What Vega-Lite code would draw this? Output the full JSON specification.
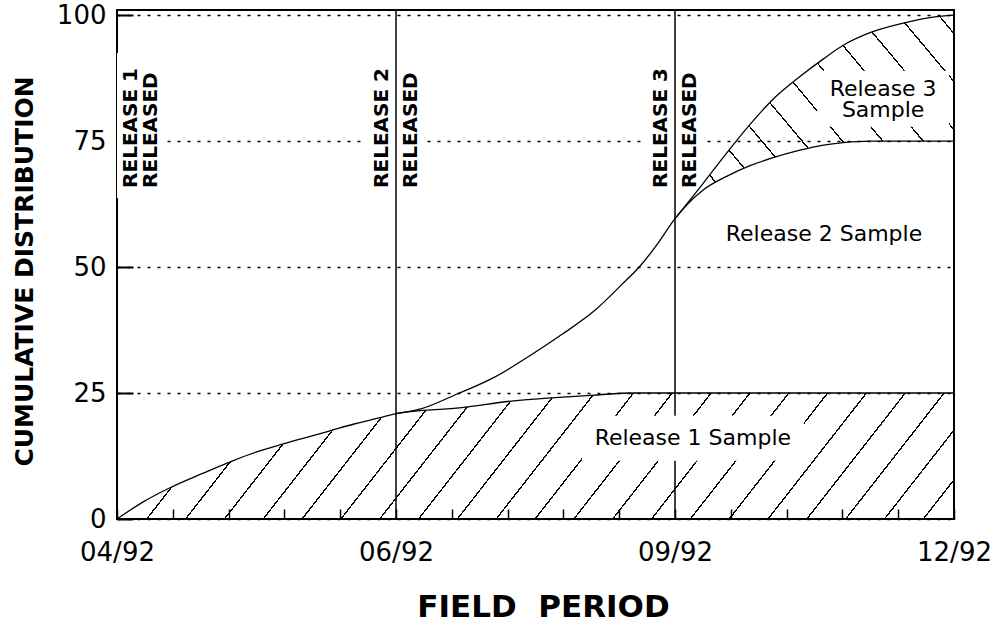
{
  "$schema": "https://vega.github.io/schema/vega-lite/v6.json",
  "width": 837,
  "height": 509,
  "autosize": {"type": "none"},
  "padding": {"left": 117, "top": 10, "right": 48, "bottom": 106},
  "background": "white",
  "config": {
    "font": "DejaVu Sans",
    "view": {"stroke": "black", "strokeWidth": 2},
    "axis": {"labelColor": "black", "titleColor": "black", "tickColor": "black", "domain": false}
  },
  "datasets": {
    "curves": [
      {"t": 0, "s": "R1", "v": 0},
      {"t": 0.094, "s": "R1", "v": 3.4},
      {"t": 0.19, "s": "R1", "v": 6.2},
      {"t": 0.309, "s": "R1", "v": 9.1},
      {"t": 0.417, "s": "R1", "v": 11.6},
      {"t": 0.5, "s": "R1", "v": 13.3},
      {"t": 0.596, "s": "R1", "v": 14.9},
      {"t": 0.68, "s": "R1", "v": 16.2},
      {"t": 0.757, "s": "R1", "v": 17.4},
      {"t": 0.853, "s": "R1", "v": 18.9},
      {"t": 0.943, "s": "R1", "v": 20.1},
      {"t": 1.0, "s": "R1", "v": 20.9},
      {"t": 1.235, "s": "R1", "v": 22.1},
      {"t": 1.414, "s": "R1", "v": 23.4},
      {"t": 1.57, "s": "R1", "v": 24.1},
      {"t": 1.713, "s": "R1", "v": 24.6},
      {"t": 1.845, "s": "R1", "v": 25.0},
      {"t": 3.0, "s": "R1", "v": 25.0},
      {"t": 1.0, "s": "R2", "v": 20.9},
      {"t": 1.092, "s": "R2", "v": 21.9},
      {"t": 1.211, "s": "R2", "v": 24.6},
      {"t": 1.355, "s": "R2", "v": 28.2},
      {"t": 1.474, "s": "R2", "v": 32.2},
      {"t": 1.594, "s": "R2", "v": 36.6},
      {"t": 1.713, "s": "R2", "v": 41.4},
      {"t": 1.809, "s": "R2", "v": 46.5},
      {"t": 1.875, "s": "R2", "v": 50.2},
      {"t": 1.94, "s": "R2", "v": 54.8},
      {"t": 2.0, "s": "R2", "v": 59.6},
      {"t": 2.101, "s": "R2", "v": 65.3},
      {"t": 2.185, "s": "R2", "v": 68.0},
      {"t": 2.269, "s": "R2", "v": 70.1},
      {"t": 2.346, "s": "R2", "v": 71.6},
      {"t": 2.448, "s": "R2", "v": 73.2},
      {"t": 2.532, "s": "R2", "v": 74.2},
      {"t": 2.603, "s": "R2", "v": 74.7},
      {"t": 2.699, "s": "R2", "v": 75.0},
      {"t": 2.818, "s": "R2", "v": 75.0},
      {"t": 2.925, "s": "R2", "v": 75.0},
      {"t": 3.0, "s": "R2", "v": 75.0},
      {"t": 2.0, "s": "R3", "v": 59.6},
      {"t": 2.101, "s": "R3", "v": 66.6},
      {"t": 2.185, "s": "R3", "v": 72.6},
      {"t": 2.269, "s": "R3", "v": 78.3},
      {"t": 2.346, "s": "R3", "v": 83.0},
      {"t": 2.448, "s": "R3", "v": 87.8},
      {"t": 2.532, "s": "R3", "v": 91.3},
      {"t": 2.603, "s": "R3", "v": 94.0},
      {"t": 2.699, "s": "R3", "v": 96.5},
      {"t": 2.818, "s": "R3", "v": 98.4},
      {"t": 2.925, "s": "R3", "v": 99.6},
      {"t": 3.0, "s": "R3", "v": 100}
    ],
    "releases": [
      {"t": 0, "label": "RELEASE 1\nRELEASED"},
      {"t": 1, "label": "RELEASE 2\nRELEASED"},
      {"t": 2, "label": "RELEASE 3\nRELEASED"}
    ],
    "samples": [
      {"t": 2.064, "v": 16.0, "label": "Release 1 Sample"},
      {"t": 2.534, "v": 56.6, "label": "Release 2 Sample"},
      {"t": 2.746, "v": 85.4, "label": "Release 3"},
      {"t": 2.746, "v": 81.2, "label": "Sample"}
    ]
  },
  "encoding": {
    "x": {
      "field": "t",
      "type": "quantitative",
      "scale": {"domain": [0, 3], "nice": false, "zero": false},
      "axis": {
        "values": [0, 0.2, 0.4, 0.6, 0.8, 1, 1.2, 1.4, 1.6, 1.8, 2, 2.2, 2.4, 2.6, 2.8, 3],
        "labelExpr": "datum.value === 0 ? '04/92' : datum.value === 1 ? '06/92' : datum.value === 2 ? '09/92' : datum.value === 3 ? '12/92' : ''",
        "labelFlush": false,
        "labelOverlap": false,
        "labelFontSize": 26,
        "labelPadding": 30,
        "grid": false,
        "tickSize": -10,
        "tickWidth": 1.5,
        "title": "FIELD\u00a0\u00a0PERIOD",
        "titleFontSize": 31,
        "titleFontWeight": "bold",
        "titleX": 426,
        "titleY": 88,
        "titleBaseline": "middle",
        "titleAlign": "center"
      }
    }
  },
  "layer": [
    {
      "data": {"name": "curves"},
      "transform": [{"filter": "datum.s === 'R1'"}],
      "mark": {
        "type": "area",
        "interpolate": "monotone",
        "fill": {
          "gradient": "linear", "x1": 0, "y1": 0, "x2": 1.10237, "y2": 0.12966,
          "stops": [
            {"offset": 0, "color": "rgba(0,0,0,0)"},
            {"offset": 0.01156, "color": "rgba(0,0,0,0)"}, {"offset": 0.01156, "color": "black"}, {"offset": 0.01336, "color": "black"}, {"offset": 0.01336, "color": "rgba(0,0,0,0)"},
            {"offset": 0.05307, "color": "rgba(0,0,0,0)"}, {"offset": 0.05307, "color": "black"}, {"offset": 0.05487, "color": "black"}, {"offset": 0.05487, "color": "rgba(0,0,0,0)"},
            {"offset": 0.09458, "color": "rgba(0,0,0,0)"}, {"offset": 0.09458, "color": "black"}, {"offset": 0.09638, "color": "black"}, {"offset": 0.09638, "color": "rgba(0,0,0,0)"},
            {"offset": 0.13609, "color": "rgba(0,0,0,0)"}, {"offset": 0.13609, "color": "black"}, {"offset": 0.13789, "color": "black"}, {"offset": 0.13789, "color": "rgba(0,0,0,0)"},
            {"offset": 0.1776, "color": "rgba(0,0,0,0)"}, {"offset": 0.1776, "color": "black"}, {"offset": 0.1794, "color": "black"}, {"offset": 0.1794, "color": "rgba(0,0,0,0)"},
            {"offset": 0.21911, "color": "rgba(0,0,0,0)"}, {"offset": 0.21911, "color": "black"}, {"offset": 0.22091, "color": "black"}, {"offset": 0.22091, "color": "rgba(0,0,0,0)"},
            {"offset": 0.26062, "color": "rgba(0,0,0,0)"}, {"offset": 0.26062, "color": "black"}, {"offset": 0.26242, "color": "black"}, {"offset": 0.26242, "color": "rgba(0,0,0,0)"},
            {"offset": 0.30213, "color": "rgba(0,0,0,0)"}, {"offset": 0.30213, "color": "black"}, {"offset": 0.30393, "color": "black"}, {"offset": 0.30393, "color": "rgba(0,0,0,0)"},
            {"offset": 0.34364, "color": "rgba(0,0,0,0)"}, {"offset": 0.34364, "color": "black"}, {"offset": 0.34544, "color": "black"}, {"offset": 0.34544, "color": "rgba(0,0,0,0)"},
            {"offset": 0.38515, "color": "rgba(0,0,0,0)"}, {"offset": 0.38515, "color": "black"}, {"offset": 0.38695, "color": "black"}, {"offset": 0.38695, "color": "rgba(0,0,0,0)"},
            {"offset": 0.42666, "color": "rgba(0,0,0,0)"}, {"offset": 0.42666, "color": "black"}, {"offset": 0.42846, "color": "black"}, {"offset": 0.42846, "color": "rgba(0,0,0,0)"},
            {"offset": 0.46817, "color": "rgba(0,0,0,0)"}, {"offset": 0.46817, "color": "black"}, {"offset": 0.46997, "color": "black"}, {"offset": 0.46997, "color": "rgba(0,0,0,0)"},
            {"offset": 0.50968, "color": "rgba(0,0,0,0)"}, {"offset": 0.50968, "color": "black"}, {"offset": 0.51148, "color": "black"}, {"offset": 0.51148, "color": "rgba(0,0,0,0)"},
            {"offset": 0.55119, "color": "rgba(0,0,0,0)"}, {"offset": 0.55119, "color": "black"}, {"offset": 0.55299, "color": "black"}, {"offset": 0.55299, "color": "rgba(0,0,0,0)"},
            {"offset": 0.5927, "color": "rgba(0,0,0,0)"}, {"offset": 0.5927, "color": "black"}, {"offset": 0.5945, "color": "black"}, {"offset": 0.5945, "color": "rgba(0,0,0,0)"},
            {"offset": 0.63421, "color": "rgba(0,0,0,0)"}, {"offset": 0.63421, "color": "black"}, {"offset": 0.63601, "color": "black"}, {"offset": 0.63601, "color": "rgba(0,0,0,0)"},
            {"offset": 0.67572, "color": "rgba(0,0,0,0)"}, {"offset": 0.67572, "color": "black"}, {"offset": 0.67752, "color": "black"}, {"offset": 0.67752, "color": "rgba(0,0,0,0)"},
            {"offset": 0.71723, "color": "rgba(0,0,0,0)"}, {"offset": 0.71723, "color": "black"}, {"offset": 0.71903, "color": "black"}, {"offset": 0.71903, "color": "rgba(0,0,0,0)"},
            {"offset": 0.75874, "color": "rgba(0,0,0,0)"}, {"offset": 0.75874, "color": "black"}, {"offset": 0.76054, "color": "black"}, {"offset": 0.76054, "color": "rgba(0,0,0,0)"},
            {"offset": 0.80025, "color": "rgba(0,0,0,0)"}, {"offset": 0.80025, "color": "black"}, {"offset": 0.80205, "color": "black"}, {"offset": 0.80205, "color": "rgba(0,0,0,0)"},
            {"offset": 0.84176, "color": "rgba(0,0,0,0)"}, {"offset": 0.84176, "color": "black"}, {"offset": 0.84356, "color": "black"}, {"offset": 0.84356, "color": "rgba(0,0,0,0)"},
            {"offset": 0.88327, "color": "rgba(0,0,0,0)"}, {"offset": 0.88327, "color": "black"}, {"offset": 0.88507, "color": "black"}, {"offset": 0.88507, "color": "rgba(0,0,0,0)"},
            {"offset": 0.92478, "color": "rgba(0,0,0,0)"}, {"offset": 0.92478, "color": "black"}, {"offset": 0.92658, "color": "black"}, {"offset": 0.92658, "color": "rgba(0,0,0,0)"},
            {"offset": 0.96629, "color": "rgba(0,0,0,0)"}, {"offset": 0.96629, "color": "black"}, {"offset": 0.96809, "color": "black"}, {"offset": 0.96809, "color": "rgba(0,0,0,0)"},
            {"offset": 1, "color": "rgba(0,0,0,0)"}
          ]
        }
      },
      "encoding": {
        "y": {
          "field": "v",
          "type": "quantitative",
          "stack": null,
          "scale": {"domain": [0, 101], "nice": false, "zero": true},
          "axis": {
            "values": [0, 25, 50, 75, 100],
            "grid": true,
            "gridDash": [3, 7],
            "gridColor": "black",
            "gridWidth": 1.5,
            "gridOpacity": 1,
            "tickSize": -16,
            "tickWidth": 2,
            "labelFontSize": 26,
            "labelPadding": 27,
            "title": "CUMULATIVE DISTRIBUTION",
            "titleFontSize": 25,
            "titleFontWeight": "bold",
            "titleAngle": 270,
            "titleX": -93,
            "titleY": 261,
            "titleBaseline": "middle",
            "titleAlign": "center"
          }
        }
      }
    },
    {
      "data": {"name": "curves"},
      "transform": [
        {"filter": "datum.s !== 'R1' && datum.t >= 2"},
        {"pivot": "s", "value": "v", "groupby": ["t"]},
        {"filter": "isValid(datum.R2) && isValid(datum.R3)"}
      ],
      "mark": {
        "type": "area",
        "interpolate": "monotone",
        "fill": {
          "gradient": "linear", "x1": 0, "y1": 1, "x2": 1.17273, "y2": 0.28221,
          "stops": [
            {"offset": 0, "color": "rgba(0,0,0,0)"},
            {"offset": 0.0666, "color": "rgba(0,0,0,0)"}, {"offset": 0.0666, "color": "black"}, {"offset": 0.0704, "color": "black"}, {"offset": 0.0704, "color": "rgba(0,0,0,0)"},
            {"offset": 0.1563, "color": "rgba(0,0,0,0)"}, {"offset": 0.1563, "color": "black"}, {"offset": 0.1601, "color": "black"}, {"offset": 0.1601, "color": "rgba(0,0,0,0)"},
            {"offset": 0.246, "color": "rgba(0,0,0,0)"}, {"offset": 0.246, "color": "black"}, {"offset": 0.2498, "color": "black"}, {"offset": 0.2498, "color": "rgba(0,0,0,0)"},
            {"offset": 0.3357, "color": "rgba(0,0,0,0)"}, {"offset": 0.3357, "color": "black"}, {"offset": 0.3395, "color": "black"}, {"offset": 0.3395, "color": "rgba(0,0,0,0)"},
            {"offset": 0.4254, "color": "rgba(0,0,0,0)"}, {"offset": 0.4254, "color": "black"}, {"offset": 0.4292, "color": "black"}, {"offset": 0.4292, "color": "rgba(0,0,0,0)"},
            {"offset": 0.5151, "color": "rgba(0,0,0,0)"}, {"offset": 0.5151, "color": "black"}, {"offset": 0.5189, "color": "black"}, {"offset": 0.5189, "color": "rgba(0,0,0,0)"},
            {"offset": 0.6048, "color": "rgba(0,0,0,0)"}, {"offset": 0.6048, "color": "black"}, {"offset": 0.6086, "color": "black"}, {"offset": 0.6086, "color": "rgba(0,0,0,0)"},
            {"offset": 0.6945, "color": "rgba(0,0,0,0)"}, {"offset": 0.6945, "color": "black"}, {"offset": 0.6983, "color": "black"}, {"offset": 0.6983, "color": "rgba(0,0,0,0)"},
            {"offset": 0.7842, "color": "rgba(0,0,0,0)"}, {"offset": 0.7842, "color": "black"}, {"offset": 0.788, "color": "black"}, {"offset": 0.788, "color": "rgba(0,0,0,0)"},
            {"offset": 0.8739, "color": "rgba(0,0,0,0)"}, {"offset": 0.8739, "color": "black"}, {"offset": 0.8777, "color": "black"}, {"offset": 0.8777, "color": "rgba(0,0,0,0)"},
            {"offset": 0.9636, "color": "rgba(0,0,0,0)"}, {"offset": 0.9636, "color": "black"}, {"offset": 0.9674, "color": "black"}, {"offset": 0.9674, "color": "rgba(0,0,0,0)"},
            {"offset": 1, "color": "rgba(0,0,0,0)"}
          ]
        }
      },
      "encoding": {
        "y": {"field": "R2", "type": "quantitative"},
        "y2": {"field": "R3"}
      }
    },
    {
      "data": {"name": "releases"},
      "transform": [{"filter": "datum.t > 0"}],
      "mark": {"type": "rect", "width": 60, "height": 145, "fill": "white"},
      "encoding": {"y": {"datum": 78.1}}
    },
    {
      "data": {"name": "releases"},
      "transform": [{"filter": "datum.t === 0"}],
      "mark": {"type": "rect", "width": 100, "height": 145, "fill": "white", "clip": true},
      "encoding": {"y": {"datum": 78.1}}
    },
    {
      "data": {"name": "releases"},
      "transform": [{"filter": "datum.t > 0"}],
      "mark": {"type": "text", "angle": 270, "align": "left", "baseline": "middle", "lineBreak": "\n", "lineHeight": 29, "dy": -14.5, "fontSize": 20, "fontWeight": "bold", "fill": "black"},
      "encoding": {"y": {"datum": 65.7}, "text": {"field": "label"}}
    },
    {
      "data": {"name": "releases"},
      "transform": [{"filter": "datum.t === 0"}],
      "mark": {"type": "text", "angle": 270, "align": "left", "baseline": "middle", "lineBreak": "\n", "lineHeight": 20, "dy": 14, "fontSize": 20, "fontWeight": "bold", "fill": "black"},
      "encoding": {"y": {"datum": 65.7}, "text": {"field": "label"}}
    },
    {
      "data": {"name": "releases"},
      "transform": [{"filter": "datum.t > 0"}],
      "mark": {"type": "rule", "color": "black", "strokeWidth": 1.5},
      "encoding": {}
    },
    {
      "data": {"name": "samples"},
      "transform": [{"filter": "datum.label === 'Release 1 Sample'"}],
      "mark": {"type": "rect", "width": 222, "height": 45, "fill": "white"},
      "encoding": {"y": {"field": "v", "type": "quantitative"}}
    },
    {
      "data": {"name": "samples"},
      "transform": [{"filter": "datum.label === 'Release 3'"}],
      "mark": {"type": "rect", "width": 132, "height": 56, "fill": "white", "yOffset": 10.2},
      "encoding": {"y": {"field": "v", "type": "quantitative"}}
    },
    {
      "data": {"name": "curves"},
      "mark": {"type": "line", "color": "black", "strokeWidth": 1.3, "interpolate": "monotone"},
      "encoding": {
        "y": {"field": "v", "type": "quantitative"},
        "detail": {"field": "s"}
      }
    },
    {
      "data": {"name": "samples"},
      "mark": {"type": "text", "fontSize": 22, "align": "center", "baseline": "middle", "fill": "black"},
      "encoding": {"y": {"field": "v", "type": "quantitative"}, "text": {"field": "label"}}
    },
    {
      "data": {"values": [{"title": "NUMBERS OF HH INTERVIEWS"}]},
      "mark": {"type": "text", "angle": 270, "dy": 31, "fontSize": 26, "fontWeight": "bold", "align": "center", "baseline": "middle", "fill": "black"},
      "encoding": {"x": {"datum": 3}, "y": {"datum": 50.6}, "text": {"field": "title"}}
    }
  ]
}
